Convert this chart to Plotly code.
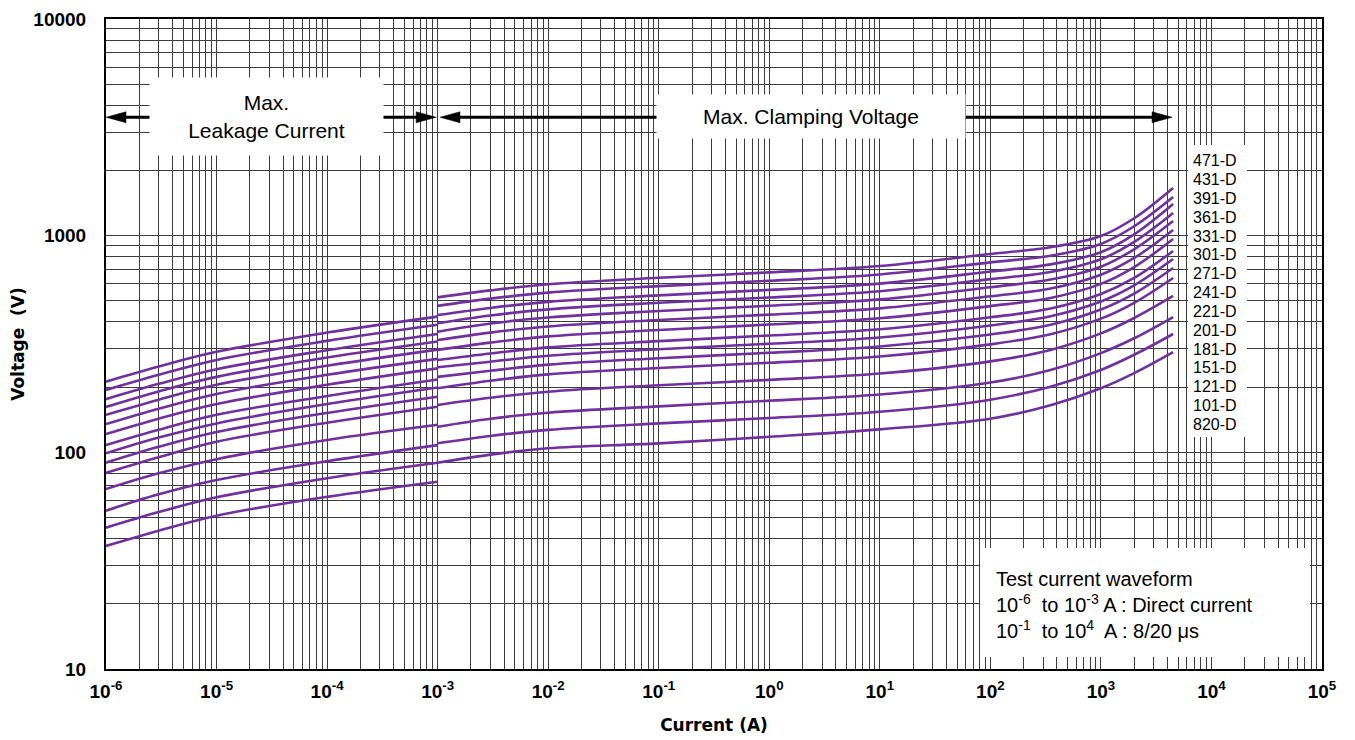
import plotly.graph_objects as go

# ---------------- data ----------------
labels = ["471-D", "431-D", "391-D", "361-D", "331-D", "301-D", "271-D", "241-D",
          "221-D", "201-D", "181-D", "151-D", "121-D", "101-D", "820-D"]

# Max. leakage current region (DC), current in A
leak_current = [1e-6, 3e-6, 1e-5, 1e-4, 1e-3]
leak_voltage = [
    [212, 249, 291, 357, 423],
    [194, 228, 267, 327, 388],
    [176, 207, 242, 296, 352],
    [162, 191, 223, 274, 325],
    [149, 175, 205, 251, 298],
    [135, 159, 186, 228, 270],
    [121.5, 143, 167, 205, 244],
    [108, 127, 149, 182, 217],
    [99, 117, 136, 167, 199],
    [89.6, 106, 124, 152, 180.5],
    [80.5, 95, 112, 137, 162.4],
    [67.7, 80, 93, 114, 134],
    [53.8, 64, 74.5, 91, 108],
    [44.9, 53, 62, 76, 89.6],
    [37.0, 43.5, 51, 62.3, 73.2],
]

# Max. clamping voltage region (8/20 us), current in A
clamp_current = [1e-3, 3e-3, 1e-2, 1e-1, 1, 10, 100, 350, 1000, 2000, 4500]
clamp_voltage = [
    [519, 559, 597, 639, 677, 724, 823, 884, 996, 1203, 1660],
    [474, 512, 546, 585, 619, 662, 753, 808, 916, 1105, 1508],
    [430, 464, 495, 530, 562, 601, 683, 737, 839, 1014, 1400],
    [394, 428, 457, 490, 518, 554, 630, 680, 778, 936, 1273],
    [360.5, 393, 419, 449, 475, 508, 578, 627, 719, 865, 1168],
    [330, 357, 381, 408, 432, 462, 525, 570, 660, 789, 1062],
    [297, 321, 343, 367, 389, 416, 473, 516, 599, 716, 965],
    [267, 286, 305, 326, 346, 370, 420, 461, 538, 638, 850],
    [247, 262, 279, 299, 317, 339, 385, 425, 497, 590, 780],
    [223, 238, 254, 272, 288, 308, 350, 388, 456, 540, 709],
    [197.5, 214, 229, 245, 259, 277, 315, 351, 414, 490, 638],
    [165.4, 178.5, 190.5, 204, 216, 231, 263, 297, 354, 417, 527],
    [131.3, 143, 152.4, 163, 173, 185, 210, 240, 287, 336, 421],
    [110.1, 119, 127, 136, 144, 154, 175, 201, 240, 282, 351.7],
    [89.6, 97.6, 104.4, 110, 118, 127.7, 143, 165, 197.6, 232, 290],
]

# region arrows (current span in A, level in V)
leak_span = [1e-6, 0.00097]
clamp_span = [0.00105, 4400]
arrow_level = 3520

x_decades = list(range(-6, 6))
y_decades = list(range(1, 5))

# ---------------- figure ----------------
PURPLE = "#7030A0"
FONT = "Arial, Liberation Sans, sans-serif"
TFONT = "DejaVu Sans, Verdana, sans-serif"
fig = go.Figure()

for name, lv, cv in zip(labels, leak_voltage, clamp_voltage):
    fig.add_trace(go.Scatter(x=leak_current, y=lv, mode="lines", name=name,
                             line=dict(color=PURPLE, width=2.6, shape="spline", smoothing=1.0),
                             showlegend=False))
    fig.add_trace(go.Scatter(x=clamp_current, y=cv, mode="lines", name=name,
                             line=dict(color=PURPLE, width=2.6, shape="spline", smoothing=1.0),
                             showlegend=False))

# double-headed arrows: shaft + filled heads (head 20 px long, 11 px tall)
L, R, T, B = 106, 33, 19, 71
W, H = 1355, 740
PW, PH = W - L - R, H - T - B
dec_x = PW / 11.0   # px per decade on x
dec_y = PH / 3.0    # px per decade on y
hl = 20 / dec_x     # head length in decades
hh = 5.5 / dec_y    # half head height in decades
for a, b in (leak_span, clamp_span):
    fig.add_trace(go.Scatter(x=[a * 10 ** hl * 0.9, b / 10 ** hl * 1.1], y=[arrow_level, arrow_level],
                             mode="lines", line=dict(color="black", width=3),
                             showlegend=False, hoverinfo="skip"))
    for tip, sgn in ((a, 1), (b, -1)):
        base = tip * 10 ** (sgn * hl)
        fig.add_trace(go.Scatter(x=[tip, base, base, tip],
                                 y=[arrow_level, arrow_level * 10 ** hh, arrow_level / 10 ** hh, arrow_level],
                                 mode="lines", fill="toself", fillcolor="black",
                                 line=dict(color="black", width=0.5),
                                 showlegend=False, hoverinfo="skip"))

# grid lines at 1..9 x 10^k, labels only at decades
xtv, xtt = [], []
for k in x_decades[:-1]:
    for m in range(1, 10):
        xtv.append(m * 10.0 ** k)
        xtt.append(f"10<sup>{k}</sup>" if m == 1 else "")
xtv.append(10.0 ** x_decades[-1])
xtt.append(f"10<sup>{x_decades[-1]}</sup>")

ytv, ytt = [], []
for k in y_decades[:-1]:
    for m in range(1, 10):
        ytv.append(m * 10 ** k)
        ytt.append(str(10 ** k) if m == 1 else "")
ytv.append(10 ** y_decades[-1])
ytt.append(str(10 ** y_decades[-1]))


def px(x):
    return (x - L) / PW


def py(y):
    return (H - B - y) / PH


fig.update_layout(
    width=W, height=H,
    margin=dict(l=L, r=R, t=T, b=B),
    paper_bgcolor="white", plot_bgcolor="white",
    font=dict(family=FONT, color="black"),
    xaxis=dict(type="log", range=[-6, 5], tickvals=xtv, ticktext=xtt, automargin=False,
               showgrid=True, gridcolor="#3c3c3c", gridwidth=1, zeroline=False,
               showline=True, linecolor="black", linewidth=2, mirror=True,
               ticks="", ticklabelstandoff=4,
               tickfont=dict(family=FONT, size=19, color="black", weight="bold"),
               title=dict(text="<b>Current (A)</b>", font=dict(family=TFONT, size=17), standoff=18)),
    yaxis=dict(type="log", range=[1, 4], tickvals=ytv, ticktext=ytt, automargin=False,
               showgrid=True, gridcolor="#3c3c3c", gridwidth=1, zeroline=False,
               showline=True, linecolor="black", linewidth=2, mirror=True,
               ticks="", ticklabelstandoff=14,
               tickfont=dict(family=FONT, size=19, color="black", weight="bold"),
               title=dict(text="<b>Voltage  (V)</b>", font=dict(family=TFONT, size=17), standoff=4)),
)

# white boxes (no curves pass there)
fig.add_shape(type="rect", xref="paper", yref="paper", layer="above",
              x0=px(1188), x1=px(1247), y0=py(437), y1=py(145),
              fillcolor="white", line=dict(width=0))
fig.add_shape(type="rect", xref="paper", yref="paper", layer="above",
              x0=px(980), x1=px(1310), y0=py(657), y1=py(548),
              fillcolor="white", line=dict(width=0))

# region captions
fig.add_annotation(x=px(266.5), y=py(116), xref="paper", yref="paper",
                   text="Max.<br>Leakage Current", showarrow=False,
                   font=dict(family=FONT, size=21, color="black"),
                   bgcolor="white", width=227, height=71, borderpad=3,
                   xanchor="center", yanchor="middle")
fig.add_annotation(x=px(811), y=py(116), xref="paper", yref="paper",
                   text="Max. Clamping Voltage", showarrow=False,
                   font=dict(family=FONT, size=21, color="black"),
                   bgcolor="white", width=302, height=37, borderpad=3,
                   xanchor="center", yanchor="middle")

# test waveform note
nb = "\u00a0"
fig.add_annotation(x=px(994), y=py(605), xref="paper", yref="paper",
                   text=("Test current waveform<br>"
                         f"10<sup>-6</sup>{nb} to 10<sup>-3</sup> A : Direct current<br>"
                         f"10<sup>-1</sup>{nb} to 10<sup>4</sup>{nb} A : 8/20 \u03bcs"),
                   showarrow=False, align="left", xanchor="left", yanchor="middle",
                   font=dict(family=FONT, size=20, color="black"))

# series labels
for i, name in enumerate(labels):
    fig.add_annotation(x=px(1191), y=py(160.7 + i * 18.83), xref="paper", yref="paper",
                       text=name, showarrow=False, xanchor="left", yanchor="middle",
                       font=dict(family=FONT, size=16, color="black"))

fig.write_html("out.html", config={"displayModeBar": False},
               post_script="document.body.style.margin='0';")
